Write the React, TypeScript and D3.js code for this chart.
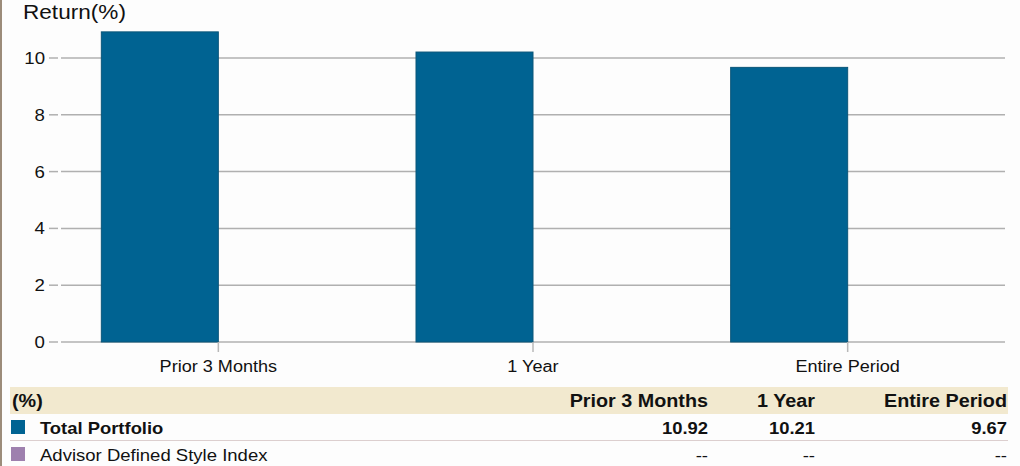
import React from "react";
import * as d3 from "d3";

const categories = ["Prior 3 Months", "1 Year", "Entire Period"];
const seriesNames = ["Total Portfolio", "Advisor Defined Style Index"];
const portfolioValues = [10.92, 10.21, 9.67];
const indexValues: (number | null)[] = [null, null, null];
const yTicks = [0, 2, 4, 6, 8, 10];
const tableLabels = ["10.92", "10.21", "9.67"];
const indexLabels = ["--", "--", "--"];

const W = 1020;
const H = 466;
const SX = 1.13;
const FONT = "Liberation Sans, Arial, Helvetica, sans-serif";

function T(props: {
  x: number;
  y: number;
  anchor?: "start" | "middle" | "end";
  size: number;
  bold?: boolean;
  fill?: string;
  children: React.ReactNode;
}) {
  const { x, y, anchor = "start", size, bold, fill = "#111", children } = props;
  return (
    <text
      transform={`translate(${x},${y}) scale(${SX},1)`}
      textAnchor={anchor}
      fontSize={size}
      fontWeight={bold ? "bold" : "normal"}
      fill={fill}
      fontFamily={FONT}
    >
      {children}
    </text>
  );
}

export default function App() {
  const plotLeft = 61;
  const plotRight = 1005;
  const y = d3.scaleLinear().domain([0, 10]).range([342, 58]);
  const x = d3.scaleBand<string>().domain(categories).range([plotLeft, plotRight]).padding(0);
  const sub = d3.scaleBand<string>().domain(seriesNames).range([-117, 117]);

  const colors = ["#006392", "#9e80ae"];

  const colRight = [708, 815, 1007];

  return (
    <svg
      width={W}
      height={H}
      style={{ position: "absolute", left: 0, top: 0, background: "#fdfdfd" }}
    >
      <rect x={0} y={0} width={W} height={H} fill="#fdfdfd" />
      <rect x={0} y={0} width={2} height={H} fill="#9c8c7a" />

      <T x={23} y={19} size={20}>Return(%)</T>

      {yTicks.map((t) => (
        <g key={t}>
          <line x1={49} x2={58} y1={y(t)} y2={y(t)} stroke="#b0b0b0" strokeWidth={1.5} />
          <line x1={plotLeft} x2={plotRight} y1={y(t)} y2={y(t)} stroke="#b0b0b0" strokeWidth={1.5} />
          <T x={45} y={y(t) + 6} anchor="end" size={16.5}>{t}</T>
        </g>
      ))}

      {categories.map((c, i) => {
        const cx = (x(c) as number) + x.bandwidth() / 2;
        const v0 = portfolioValues[i];
        const v1 = indexValues[i];
        return (
          <g key={c}>
            <rect
              x={cx + (sub(seriesNames[0]) as number)}
              y={y(v0)}
              width={sub.bandwidth()}
              height={y(0) - y(v0)}
              fill={colors[0]}
              stroke="#0b5679"
              strokeWidth={1}
            />
            {v1 !== null && (
              <rect
                x={cx + (sub(seriesNames[1]) as number)}
                y={y(v1)}
                width={sub.bandwidth()}
                height={y(0) - y(v1)}
                fill={colors[1]}
              />
            )}
            <line x1={cx} x2={cx} y1={342} y2={352} stroke="#b8b8b8" strokeWidth={1.5} />
            <T x={cx} y={372} anchor="middle" size={16}>{c}</T>
          </g>
        );
      })}

      {/* table */}
      <rect x={10} y={387} width={998} height={27} fill="#f2e9cf" />
      <T x={12} y={407} size={17.5} bold>(%)</T>
      {categories.map((c, i) => (
        <T key={c} x={colRight[i]} y={407} anchor="end" size={17.5} bold>{c}</T>
      ))}

      <rect x={11} y={420} width={14} height={14} fill={colors[0]} />
      <T x={40} y={434} size={16.3} bold>{seriesNames[0]}</T>
      {tableLabels.map((l, i) => (
        <T key={i} x={colRight[i]} y={434} anchor="end" size={16.3} bold>{l}</T>
      ))}
      <line x1={10} x2={1008} y1={440.5} y2={440.5} stroke="#dccfcf" strokeWidth={1} />

      <rect x={11} y={447} width={14} height={14} fill={colors[1]} />
      <T x={40} y={461} size={16.4}>{seriesNames[1]}</T>
      {indexLabels.map((l, i) => (
        <T key={i} x={colRight[i]} y={461} anchor="end" size={16.4}>{l}</T>
      ))}
    </svg>
  );
}
